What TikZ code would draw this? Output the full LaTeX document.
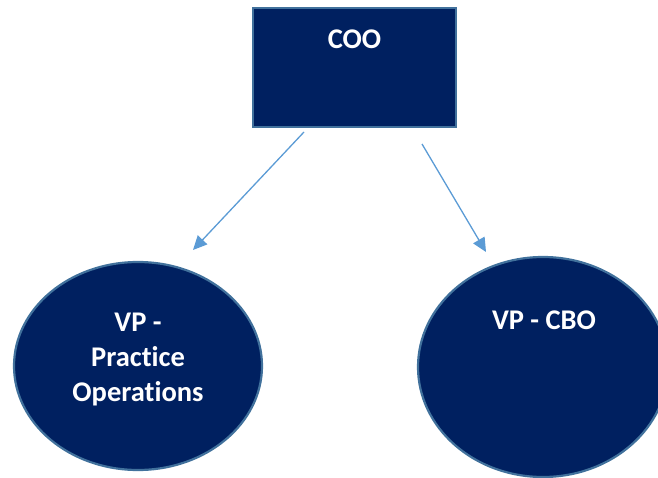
\documentclass[tikz,border=0pt]{standalone}
\usepackage{fontspec}
\setmainfont[Ligatures={NoCommon}]{Carlito}
\usetikzlibrary{shapes.geometric,arrows.meta}
\definecolor{navy}{HTML}{002060}
\definecolor{edgeblue}{HTML}{41719C}
\definecolor{arrowblue}{HTML}{5B9BD5}
\tikzset{
  box/.style={draw=edgeblue, line width=2.2pt, fill=navy, inner sep=0pt},
  lbl/.style={text=white, font=\fontsize{28.5}{35}\selectfont\bfseries, align=center, inner sep=0pt},
  conn/.style={draw=arrowblue, line width=1.3pt, -{Triangle[length=14pt,width=13pt]}}
}
\begin{document}
\begin{tikzpicture}[x=1pt,y=-1pt]
\useasboundingbox (0,0) rectangle (658,478);
\clip (0,0) rectangle (658,478);
\node[box, rectangle, minimum width=203pt, minimum height=119pt] (coo) at (354.5,67.5) {};
\node[lbl] (cootxt) at (354.5,39) {COO};
\node[box, ellipse, minimum width=248pt, minimum height=208pt] (vpo) at (138,366) {};
\node[lbl] (vpotxt) at (138,359) {VP -\\Practice\\Operations};
\node[box, ellipse, minimum width=250pt, minimum height=220pt] (cbo) at (543,367) {};
\node[lbl] (cbotxt) at (544,320) {VP - CBO};
\coordinate (s1) at (304,132);
\coordinate (t1) at (193,250);
\coordinate (s2) at (422,144);
\coordinate (t2) at (486,252);
\draw[conn] (s1) -- (t1);
\draw[conn] (s2) -- (t2);
\end{tikzpicture}
\end{document}
